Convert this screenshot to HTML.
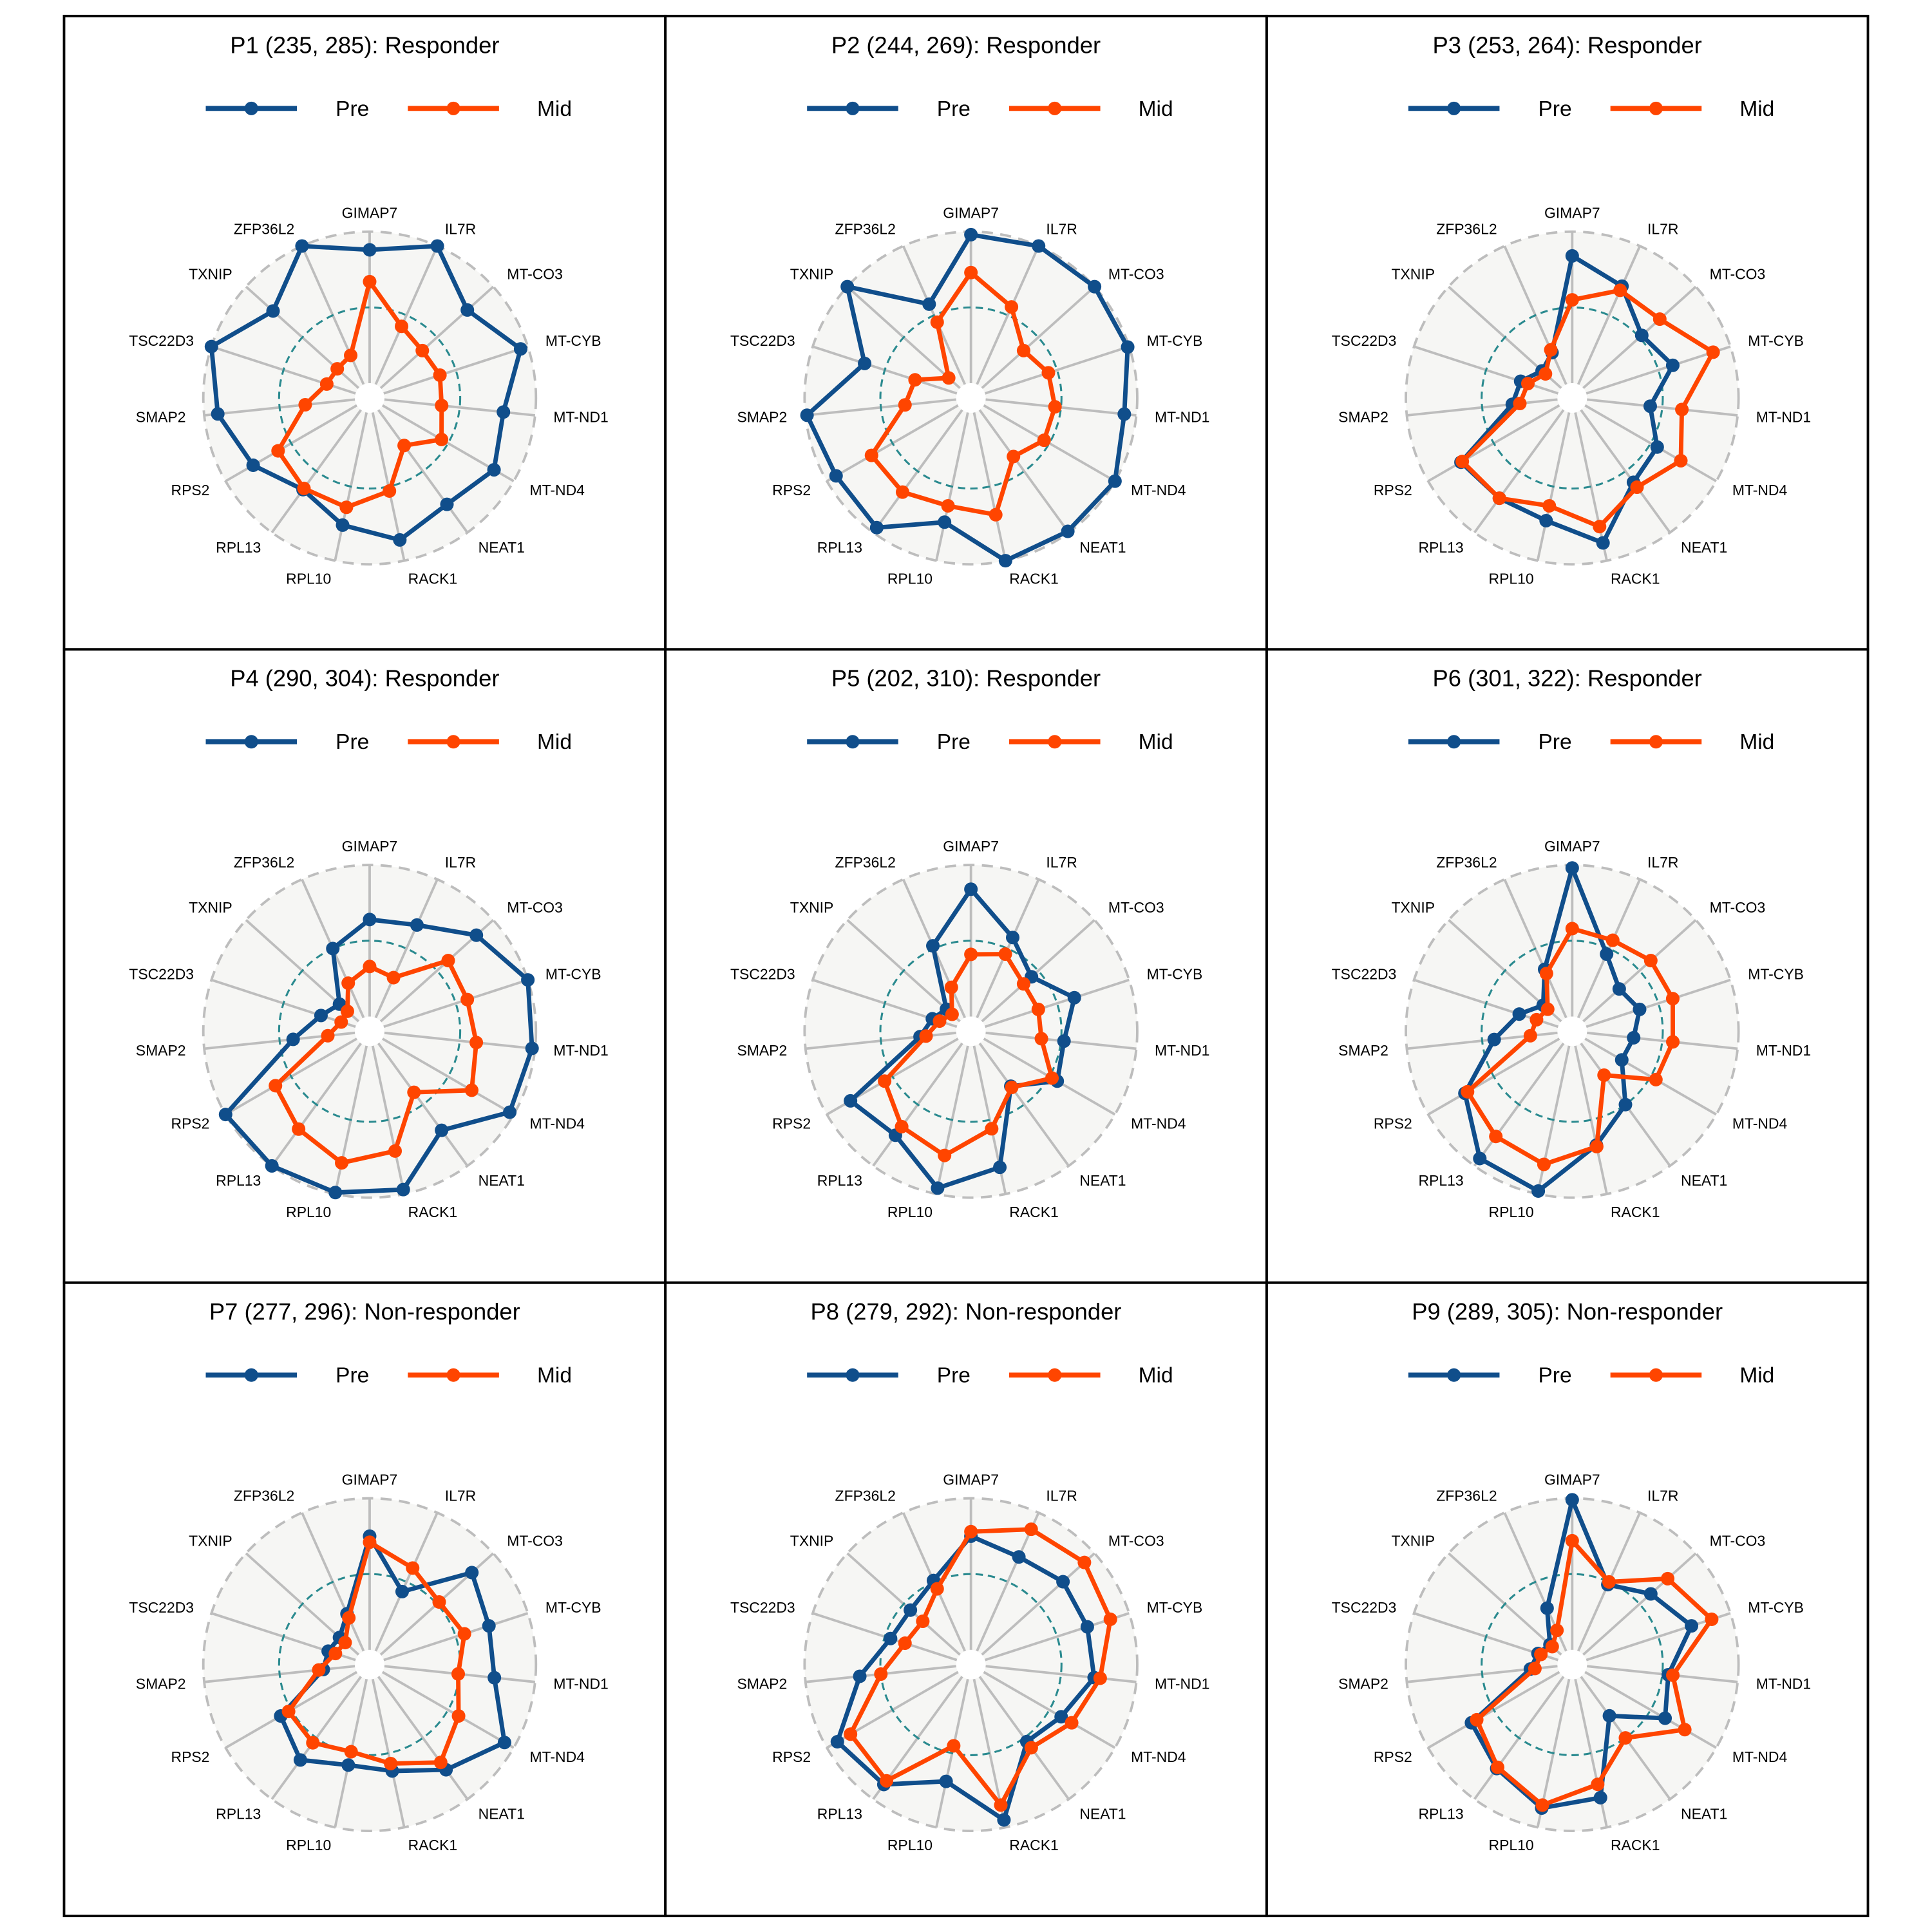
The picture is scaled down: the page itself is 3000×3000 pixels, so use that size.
<!DOCTYPE html>
<html><head><meta charset="utf-8"><style>
html,body{margin:0;padding:0;background:#fff;}
svg{display:block;font-family:"Liberation Sans",Arial,sans-serif;}
</style></head>
<body>
<svg id="chart" width="3000" height="3000" viewBox="0 0 1568 1568" xmlns="http://www.w3.org/2000/svg"></svg>
<script>
const genes = ["GIMAP7","IL7R","MT-CO3","MT-CYB","MT-ND1","MT-ND4","NEAT1","RACK1","RPL10","RPL13","RPS2","SMAP2","TSC22D3","TXNIP","ZFP36L2"];
const titles = ["P1 (235, 285): Responder","P2 (244, 269): Responder","P3 (253, 264): Responder","P4 (290, 304): Responder","P5 (202, 310): Responder","P6 (301, 322): Responder","P7 (277, 296): Non-responder","P8 (279, 292): Non-responder","P9 (289, 305): Non-responder"];
const preValues = [
 [0.88,1.0,0.77,0.95,0.79,0.85,0.77,0.86,0.76,0.65,0.79,0.91,1.0,0.76,1.0],
 [0.98,1.0,1.0,0.99,0.92,1.0,0.99,1.0,0.74,0.96,0.93,0.99,0.64,1.0,0.58],
 [0.84,0.71,0.52,0.6,0.42,0.55,0.59,0.88,0.73,0.72,0.75,0.3,0.26,0.17,0.23],
 [0.64,0.67,0.85,1.0,0.98,0.97,0.71,0.97,0.99,1.0,1.0,0.41,0.24,0.17,0.5],
 [0.84,0.58,0.44,0.62,0.52,0.56,0.35,0.82,0.96,0.75,0.82,0.24,0.17,0.12,0.52],
 [0.98,0.46,0.32,0.37,0.31,0.28,0.5,0.67,0.98,0.94,0.72,0.42,0.27,0.16,0.35],
 [0.75,0.43,0.81,0.73,0.73,0.93,0.76,0.62,0.58,0.68,0.58,0.21,0.19,0.17,0.27],
 [0.75,0.68,0.72,0.71,0.72,0.59,0.53,0.95,0.69,0.88,0.92,0.64,0.46,0.44,0.51],
 [0.99,0.48,0.6,0.73,0.54,0.61,0.32,0.8,0.87,0.75,0.67,0.18,0.14,0.1,0.31]
];
const midValues = [
 [0.67,0.42,0.37,0.39,0.38,0.45,0.29,0.53,0.64,0.64,0.6,0.33,0.2,0.19,0.21],
 [0.73,0.56,0.37,0.44,0.46,0.46,0.38,0.69,0.63,0.67,0.66,0.34,0.29,0.1,0.45],
 [0.55,0.68,0.68,0.88,0.63,0.73,0.63,0.77,0.63,0.72,0.74,0.25,0.21,0.14,0.25],
 [0.33,0.29,0.6,0.58,0.61,0.68,0.4,0.71,0.79,0.7,0.62,0.18,0.1,0.1,0.25],
 [0.41,0.46,0.37,0.37,0.37,0.52,0.36,0.56,0.74,0.68,0.56,0.2,0.12,0.07,0.22],
 [0.58,0.56,0.6,0.6,0.57,0.54,0.26,0.68,0.8,0.76,0.7,0.18,0.15,0.12,0.32],
 [0.71,0.6,0.52,0.56,0.49,0.58,0.7,0.57,0.49,0.54,0.52,0.24,0.14,0.12,0.24],
 [0.78,0.88,0.91,0.87,0.76,0.67,0.58,0.85,0.45,0.85,0.82,0.5,0.36,0.33,0.45],
 [0.72,0.5,0.75,0.87,0.57,0.76,0.5,0.71,0.85,0.74,0.63,0.15,0.12,0.08,0.15]
];
const seriesNames = ["Pre","Mid"];
const seriesColors = ["#104e8b","#ff4500"];

const NS = "http://www.w3.org/2000/svg";
const svg = document.getElementById("chart");
function mk(tag, attrs, parent){const e=document.createElementNS(NS,tag);for(const k in attrs)e.setAttribute(k,attrs[k]);(parent||svg).appendChild(e);return e;}

const gx0=52, gy0=13, pw=488, ph=514;
const R=135, r0=12, labelR=150;
function rScale(v){return r0+v*(R-r0);}
function angle(i){return i*2*Math.PI/genes.length;}
function pt(cx,cy,i,v){const a=angle(i),r=rScale(v);return [cx+r*Math.sin(a), cy-r*Math.cos(a)];}

titles.forEach((t,p)=>{
  const col=p%3,row=Math.floor(p/3);
  const x0=gx0+col*pw, y0=gy0+row*ph;
  const g=mk("g",{});
  
  
  const frame=mk("rect",{x:x0,y:y0,width:pw,height:ph,fill:"none",stroke:"#000","stroke-width":2},g);
  
  
  const tt=mk("text",{x:x0+pw/2,y:y0+30,"text-anchor":"middle","font-size":19,fill:"#000"},g);
  tt.textContent=t;
  
  
  seriesNames.forEach((s,k)=>{
    const lx=x0+115+k*164, ly=y0+75;
    const lg=mk("g",{},g);
    
    
    mk("line",{x1:lx,y1:ly,x2:lx+74,y2:ly,stroke:seriesColors[k],"stroke-width":4},lg);
    mk("circle",{cx:lx+37,cy:ly,r:5.5,fill:seriesColors[k]},lg);
    const lt=mk("text",{x:lx+119,y:ly+6,"text-anchor":"middle","font-size":17.5,fill:"#000"},lg);
    lt.textContent=s;
  });
  const cx=x0+248, cy=y0+310;
  const bg=mk("circle",{cx:cx,cy:cy,r:R,fill:"#f6f6f4",stroke:"none"},g);
  
  
  genes.forEach((gn,i)=>{
    const a=angle(i);
    const sp=mk("line",{x1:cx+r0*Math.sin(a),y1:cy-r0*Math.cos(a),x2:cx+R*Math.sin(a),y2:cy-R*Math.cos(a),stroke:"#bdbdbd","stroke-width":2},g);
    
    
    const s=Math.sin(a);
    const anchor=s>0.1?"start":(s<-0.1?"end":"middle");
    const lb=mk("text",{x:cx+labelR*s,y:cy-labelR*Math.cos(a)+4,"text-anchor":anchor,"font-size":12,fill:"#000"},g);
    lb.textContent=gn;
    
    
  });
  const oc=mk("circle",{cx:cx,cy:cy,r:R,fill:"none",stroke:"#bdbdbd","stroke-width":2,"stroke-dasharray":"9,6"},g);
  
  
  const mc=mk("circle",{cx:cx,cy:cy,r:rScale(0.5),fill:"none",stroke:"#2a8a8f","stroke-width":1.6,"stroke-dasharray":"6,4"},g);
  
  
  const hole=mk("circle",{cx:cx,cy:cy,r:r0,fill:"#fff",stroke:"none"},g);
  
  
  [preValues[p],midValues[p]].forEach((vals,k)=>{
    const pts=vals.map((v,i)=>pt(cx,cy,i,v));
    const sg=mk("g",{},g);
    
    
    const poly=mk("polygon",{points:pts.map(q=>q.join(",")).join(" "),fill:"none",stroke:seriesColors[k],"stroke-width":3.6,"stroke-linejoin":"round"},sg);
    
    
    pts.forEach((q,i)=>{
      const c=mk("circle",{cx:q[0],cy:q[1],r:5.5,fill:seriesColors[k]},sg);
      
      
    });
  });
});
</script>
</body></html>
